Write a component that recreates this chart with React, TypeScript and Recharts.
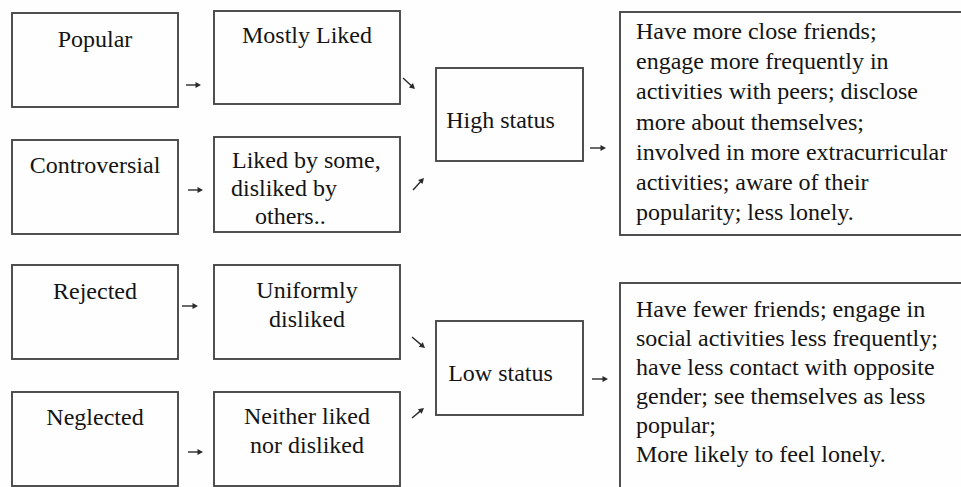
import React from "react";
import { ComposedChart, XAxis, YAxis, ReferenceArea, ReferenceLine } from "recharts";

// ---------- data (text content and flow relations) ----------
const peerTypes: string[][] = [["Popular"], ["Controversial"], ["Rejected"], ["Neglected"]];
const peerViews: string[][] = [
  ["Mostly Liked"],
  ["Liked by some,", "disliked by", "others.."],
  ["Uniformly", "disliked"],
  ["Neither liked", "nor disliked"],
];
const statusLevels: string[][] = [["High status"], ["Low status"]];
const outcomes: string[][] = [
  [
    "Have more close friends;",
    "engage more frequently in",
    "activities with peers; disclose",
    "more about themselves;",
    "involved in more extracurricular",
    "activities; aware of their",
    "popularity; less lonely.",
  ],
  [
    "Have fewer friends; engage in",
    "social activities less frequently;",
    "have less contact with opposite",
    "gender; see themselves as less",
    "popular;",
    "More likely to feel lonely.",
  ],
];

// ---------- layout (diagram units, mapped through the chart's axes) ----------
const W = 961;
const H = 487;
const FONT = "Liberation Serif, DejaVu Serif, serif";
const TEXT = "#141414";
const LINE = "#484848";

const COL_TYPE = [12, 178];
const COL_VIEW = [214, 400];
const COL_STATUS = [436, 583];
const COL_OUT = [620, 995];

const TYPE_ROWS = [[13, 107], [140, 234], [265, 359], [392, 486]];
const VIEW_ROWS = [[11, 104], [137, 232], [265, 359], [392, 486]];
const STATUS_ROWS = [[68, 161], [321, 415]];
const OUT_ROWS = [[12, 235], [283, 540]];

type TextStyle = {
  align: "middle" | "start";
  dx: number;
  first: number;
  lh: number;
  indents?: number[];
};

const TYPE_TEXT_FIRST = [34, 33, 34, 33];
const VIEW_TEXT_FIRST = [32, 31, 33, 32];
const VIEW_TEXT_STYLE: (TextStyle | null)[] = [null, { align: "start", dx: 17, first: 31, lh: 28, indents: [1, 0, 24] }, null, null];
const STATUS_TEXT = { align: "middle" as const, dx: -9, first: 59.5, lh: 29 };
const OUT_TEXT: TextStyle[] = [
  { align: "start", dx: 16, first: 27, lh: 30.2 },
  { align: "start", dx: 16, first: 34, lh: 29 },
];

// arrows: [x1, y1, x2, y2]
const TYPE_ARROWS = [[186, 85, 201, 85], [188, 190, 203, 190], [182, 306, 198, 306], [188, 452, 203, 452]];
const VIEW_ARROWS = [[403, 78, 415, 89], [413, 190, 424, 178], [412, 337, 425, 348], [412, 418, 424, 408]];
const STATUS_ARROWS = [[590, 148, 606, 148], [592, 379, 608, 379]];

// ---------- shapes ----------
function makeBox(lines: string[], style: TextStyle) {
  return (p: any) => {
    const { x, y, width, height } = p;
    const tx = style.align === "middle" ? x + width / 2 + style.dx : x + style.dx;
    return (
      <g>
        <rect x={x} y={y} width={width} height={height} fill="none" stroke={LINE} strokeWidth={1.9} />
        {lines.map((t, i) => (
          <text
            key={i}
            x={tx + (style.indents ? style.indents[i] || 0 : 0)}
            y={y + style.first + i * style.lh}
            textAnchor={style.align}
            style={{ fontFamily: FONT, fontSize: 24 }}
            fill={TEXT}
          >
            {t}
          </text>
        ))}
      </g>
    );
  };
}

function ArrowShape(p: any) {
  const { x1, y1, x2, y2 } = p;
  const dx = x2 - x1;
  const dy = y2 - y1;
  const len = Math.sqrt(dx * dx + dy * dy) || 1;
  const ux = dx / len;
  const uy = dy / len;
  const hl = 5.5;
  const hw = 3;
  const bx = x2 - ux * hl;
  const by = y2 - uy * hl;
  const pts = `${x2},${y2} ${bx - uy * hw},${by + ux * hw} ${bx + uy * hw},${by - ux * hw}`;
  return (
    <g>
      <line x1={x1} y1={y1} x2={bx + ux * 1} y2={by + uy * 1} stroke="#2a2a2a" strokeWidth={1.4} />
      <polygon points={pts} fill="#2a2a2a" />
    </g>
  );
}

export default function App() {
  const boxes: { key: string; x: number[]; y: number[]; lines: string[]; style: TextStyle }[] = [];
  peerTypes.forEach((lines, i) =>
    boxes.push({ key: "t" + i, x: COL_TYPE, y: TYPE_ROWS[i], lines, style: { align: "middle", dx: 0, first: TYPE_TEXT_FIRST[i], lh: 29 } })
  );
  peerViews.forEach((lines, i) =>
    boxes.push({
      key: "v" + i,
      x: COL_VIEW,
      y: VIEW_ROWS[i],
      lines,
      style: VIEW_TEXT_STYLE[i] || { align: "middle", dx: 0, first: VIEW_TEXT_FIRST[i], lh: 29 },
    })
  );
  statusLevels.forEach((lines, i) => boxes.push({ key: "s" + i, x: COL_STATUS, y: STATUS_ROWS[i], lines, style: STATUS_TEXT }));
  outcomes.forEach((lines, i) => boxes.push({ key: "o" + i, x: COL_OUT, y: OUT_ROWS[i], lines, style: OUT_TEXT[i] }));

  const arrows = [...TYPE_ARROWS, ...VIEW_ARROWS, ...STATUS_ARROWS];

  return (
    <div style={{ position: "absolute", left: 0, top: 0, width: W, height: H, background: "#fefefe", overflow: "hidden" }}>
      <ComposedChart width={W} height={H} data={[{ x: 0, y: 0 }]} margin={{ top: 0, right: 0, bottom: 0, left: 0 }}>
        <XAxis type="number" dataKey="x" domain={[0, W]} hide allowDataOverflow />
        <YAxis type="number" dataKey="y" domain={[0, H]} reversed hide allowDataOverflow />
        {boxes.map((b) => (
          <ReferenceArea
            key={b.key}
            x1={b.x[0]}
            x2={b.x[1]}
            y1={b.y[0]}
            y2={b.y[1]}
            ifOverflow="visible"
            fill="none"
            stroke="none"
            shape={makeBox(b.lines, b.style)}
          />
        ))}
        {arrows.map((a, i) => (
          <ReferenceLine
            key={"a" + i}
            segment={[
              { x: a[0], y: a[1] },
              { x: a[2], y: a[3] },
            ]}
            ifOverflow="visible"
            shape={ArrowShape}
          />
        ))}
      </ComposedChart>
    </div>
  );
}
